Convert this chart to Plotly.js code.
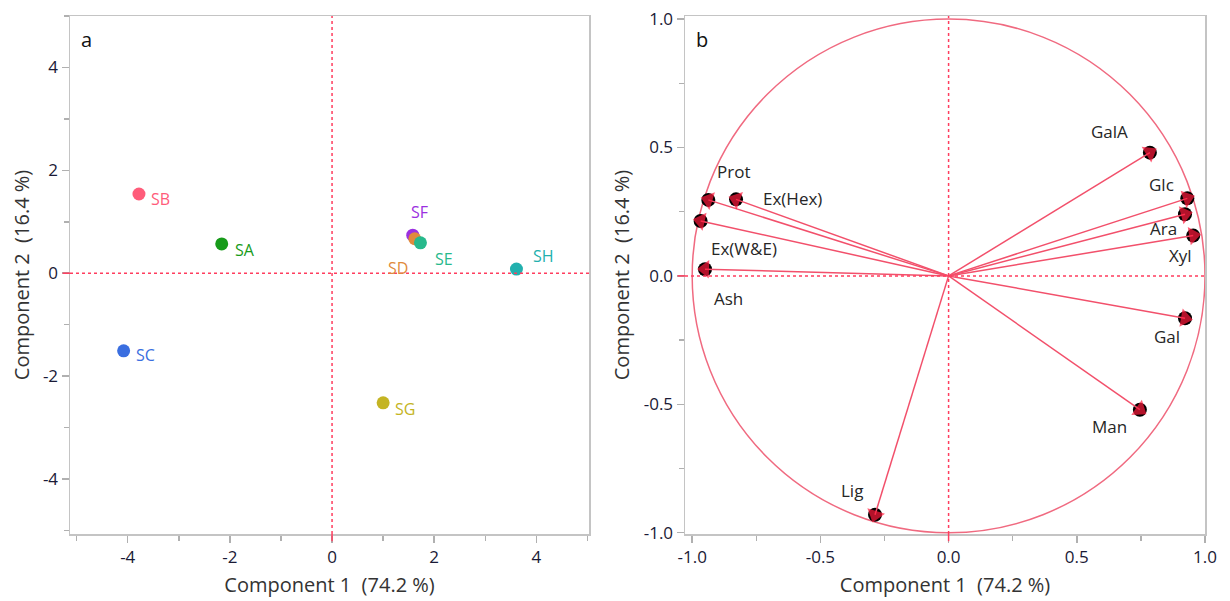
<!DOCTYPE html>
<html><head><meta charset="utf-8">
<script src="https://cdn.plot.ly/plotly-3.0.1.min.js"></script>
<style>html,body{margin:0;padding:0;background:#fff}#chart{width:1230px;height:601px}</style>
</head><body><div id="chart"></div>
<script>
// ---- Score plot (a) ----
const samples = ['SA','SB','SC','SF','SD','SE','SG','SH'];
const pc1 = [-2.16,-3.78,-4.08,1.58,1.62,1.73,1.00,3.61];
const pc2 = [0.57,1.54,-1.51,0.74,0.67,0.59,-2.52,0.08];
const sampleColors = ['#179b1a','#ff5c7a','#3a6ee0','#9b30e0','#e08a3c','#27b98c','#c4b423','#22b0ae'];
// label offsets (px) from marker
const sampleDx = [23,22,22,7,-17,24,22,27];
const sampleDy = [6,5,4,-23,29,16,6,-13];

// ---- Loading plot (b) ----
const variables = ['GalA','Glc','Ara','Xyl','Gal','Man','Lig','Prot','Ex(Hex)','Ex(W&E)','Ash'];
const load1 = [0.785,0.931,0.922,0.954,0.922,0.746,-0.287,-0.937,-0.829,-0.967,-0.950];
const load2 = [0.480,0.302,0.240,0.157,-0.165,-0.521,-0.930,0.296,0.298,0.214,0.026];
const varDx = [-40,-26,-22,-13,-18,-30,-23,25,56,43,23];
const varDy = [-21,-14,14,20,18,17,-24,-28,-1,28,29];

// ticks
const tickA = [-4,-2,0,2,4];
const tickAText = ['-4','-2','0','2','4'];
const minorA = [-5,-3,-1,1,3,5];
const tickB = [-1,-0.5,0,0.5,1];
const tickBText = ['-1.0','-0.5','0.0','0.5','1.0'];
const minorB = [-0.75,-0.25,0.25,0.75];

const FONT = 'Open Sans, Noto Sans, sans-serif';
const RED = '#ff3d5e';
const LINE = '#f2506b';

const traces = [];
traces.push({
  type:'scatter', mode:'markers', x:pc1, y:pc2, xaxis:'x', yaxis:'y',
  marker:{size:13, color:sampleColors}, hoverinfo:'text', text:samples, showlegend:false
});
// loading lines + arrowheads
const lx=[], ly=[], ls=[];
for(let i=0;i<variables.length;i++){ lx.push(0,load1[i],null); ly.push(0,load2[i],null); ls.push(0,16,0); }
traces.push({
  type:'scatter', mode:'markers', x:load1, y:load2, xaxis:'x2', yaxis:'y2',
  marker:{size:14, color:'#000'}, hoverinfo:'skip', showlegend:false
});
traces.push({
  type:'scatter', mode:'lines+markers', x:lx, y:ly, xaxis:'x2', yaxis:'y2',
  line:{color:LINE, width:1.5},
  marker:{symbol:'triangle-up', angleref:'previous', size:ls, color:'#ff1a3c', line:{width:0}},
  connectgaps:false, hoverinfo:'skip', showlegend:false
});

const annotations = [];
samples.forEach((s,i)=>annotations.push({
  x:pc1[i], y:pc2[i], xref:'x', yref:'y', text:s, showarrow:false,
  xshift:sampleDx[i], yshift:-sampleDy[i],
  font:{family:FONT, size:16, color:sampleColors[i]}
}));
variables.forEach((v,i)=>annotations.push({
  x:load1[i], y:load2[i], xref:'x2', yref:'y2', text:v, showarrow:false,
  xshift:varDx[i], yshift:-varDy[i],
  font:{family:FONT, size:17, color:'#262626'}
}));
annotations.push({xref:'x domain', yref:'y domain', x:0.018, y:0.985, xanchor:'left', yanchor:'top', text:'a', showarrow:false, font:{family:FONT,size:20,color:'#111'}});
annotations.push({xref:'x2 domain', yref:'y2 domain', x:0.018, y:0.985, xanchor:'left', yanchor:'top', text:'b', showarrow:false, font:{family:FONT,size:20,color:'#111'}});

const axBase = {
  showgrid:false, zeroline:false, showline:true, mirror:true, linecolor:'#c4c4c4', linewidth:1.5,
  ticks:'outside', ticklen:7, tickcolor:'#b0b0b0', tickwidth:1.5, automargin:false,
  tickfont:{family:FONT, size:17, color:'#1a1a36'}, tickmode:'array'
};
const titleFont = {family:FONT, size:20, color:'#333'};
const yDom = [1-534/601, 1-16/601];

const layout = {
  width:1230, height:601, margin:{l:0,r:0,t:0,b:0},
  paper_bgcolor:'#fff', plot_bgcolor:'#fff', showlegend:false,
  xaxis:Object.assign({}, axBase, {domain:[70/1230,589/1230], range:[-5.13,5.03], tickvals:tickA, ticktext:tickAText,
    minor:{tickmode:'array', tickvals:minorA, ticks:'outside', ticklen:5, tickcolor:'#b0b0b0'},
    title:{text:'Component 1  (74.2 %)', font:titleFont, standoff:11}}),
  yaxis:Object.assign({}, axBase, {domain:yDom, range:[-5.07,5.0], tickvals:tickA, ticktext:tickAText,
    minor:{tickmode:'array', tickvals:minorA, ticks:'outside', ticklen:5, tickcolor:'#b0b0b0'},
    title:{text:'Component 2  (16.4 %)', font:titleFont, standoff:8}}),
  xaxis2:Object.assign({}, axBase, {domain:[685/1230,1205/1230], range:[-1.028,1.0], anchor:'y2', tickvals:tickB, ticktext:tickBText,
    minor:{tickmode:'array', tickvals:minorB, ticks:'outside', ticklen:5, tickcolor:'#b0b0b0'},
    title:{text:'Component 1  (74.2 %)', font:titleFont, standoff:11}}),
  yaxis2:Object.assign({}, axBase, {domain:yDom, range:[-1.005,1.012], anchor:'x2', tickvals:tickB, ticktext:tickBText,
    minor:{tickmode:'array', tickvals:minorB, ticks:'outside', ticklen:5, tickcolor:'#b0b0b0'},
    title:{text:'Component 2  (16.4 %)', font:titleFont, standoff:8}}),
  shapes:[
    {type:'line', xref:'x', yref:'y domain', x0:0, x1:0, y0:0, y1:1, line:{color:RED, width:1.5, dash:'dot'}},
    {type:'line', xref:'x domain', yref:'y', x0:0, x1:1, y0:0, y1:0, line:{color:RED, width:1.5, dash:'dot'}},
    {type:'line', xref:'x2', yref:'y2 domain', x0:0, x1:0, y0:0, y1:1, line:{color:RED, width:1.5, dash:'dot'}},
    {type:'line', xref:'x2 domain', yref:'y2', x0:0, x1:1, y0:0, y1:0, line:{color:RED, width:1.5, dash:'dot'}},
    {type:'circle', xref:'x2', yref:'y2', x0:-1, x1:1, y0:-1, y1:1, line:{color:'#f06a80', width:1.5}, layer:'below'},
    // red zero ticks outside the axes
    {type:'line', xref:'x', yref:'paper', x0:0, x1:0, y0:yDom[0], y1:yDom[0]-0.012, line:{color:RED, width:1.5}},
    {type:'line', xref:'paper', yref:'y', x0:70/1230, x1:70/1230-0.006, y0:0, y1:0, line:{color:RED, width:1.5}},
    {type:'line', xref:'x2', yref:'paper', x0:0, x1:0, y0:yDom[0], y1:yDom[0]-0.012, line:{color:RED, width:1.5}},
    {type:'line', xref:'paper', yref:'y2', x0:685/1230, x1:685/1230-0.006, y0:0, y1:0, line:{color:RED, width:1.5}}
  ],
  annotations:annotations
};
Plotly.newPlot('chart', traces, layout, {displayModeBar:false, staticPlot:true});
</script></body></html>
